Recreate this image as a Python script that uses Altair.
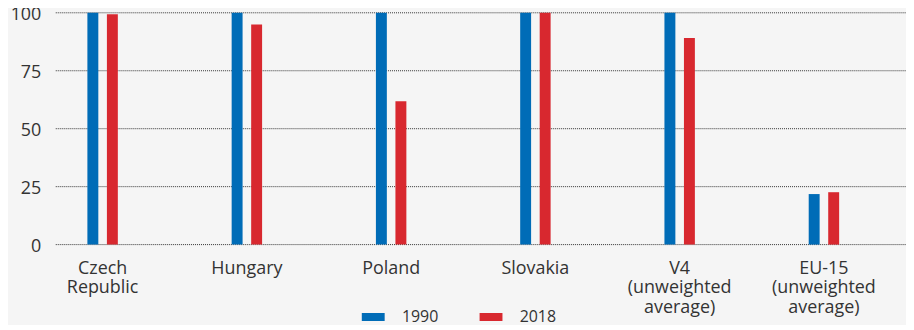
import altair as alt
import pandas as pd

categories = ["Czech|Republic", "Hungary", "Poland", "Slovakia",
              "V4|(unweighted|average)", "EU-15|(unweighted|average)"]
values_1990 = [100, 100, 100, 100, 100, 21.8]
values_2018 = [99.4, 95.0, 61.8, 100, 89.1, 22.6]
years = ["1990", "2018"]
colors = ["#006cb7", "#d8282f"]
grid_values = [0, 25, 50, 75, 100]

rows = []
for c, a, b in zip(categories, values_1990, values_2018):
    rows.append({"cat": c, "year": years[0], "value": a})
    rows.append({"cat": c, "year": years[1], "value": b})
df = pd.DataFrame(rows)
grid_df = pd.DataFrame({"g": grid_values})

FONT = "Open Sans"

grid = alt.Chart(grid_df).mark_rule(
    color="#333", strokeDash=[1, 1], strokeWidth=1, clip=False
).encode(
    y=alt.Y("g:Q", scale=alt.Scale(domain=[0, 100])),
    x=alt.value(25.4),
    x2=alt.value(883.4),
)

bars = alt.Chart(df).mark_bar().encode(
    x=alt.X("cat:N", sort=categories,
            scale=alt.Scale(paddingInner=0, paddingOuter=0),
            axis=alt.Axis(title=None, labelExpr="split(datum.label, '|')",
                          labelAngle=0, domain=False, ticks=False, tickSize=0,
                          labelPadding=15, labelFontSize=18, labelFont=FONT,
                          labelColor="#333", labelLineHeight=19.5,
                          labelBaseline="top")),
    xOffset=alt.XOffset("year:N", sort=years,
                        scale=alt.Scale(paddingInner=0.44, paddingOuter=0,
                                        range=[57.2, 87.8])),
    y=alt.Y("value:Q", scale=alt.Scale(domain=[0, 100]),
            axis=alt.Axis(title=None, values=grid_values, grid=False,
                          domain=False, ticks=False, tickSize=0,
                          offset=-15, labelPadding=4.6, labelFontSize=18,
                          labelOffset=2,
                          labelFont=FONT, labelColor="#333")),
    color=alt.Color("year:N", sort=years,
                    scale=alt.Scale(domain=years, range=colors),
                    legend=alt.Legend(title=None, orient="none", direction="horizontal",
                                      legendX=333, legendY=294, padding=0,
                                      symbolType="M-1,-0.35H1V0.35H-1Z",
                                      symbolSize=529, symbolStrokeWidth=0,
                                      labelOffset=17.3, columnPadding=41.4,
                                      labelFontSize=16, labelFont=FONT,
                                      labelColor="#333")),
)

chart = alt.layer(grid, bars).properties(
    width=870, height=233,
    autosize=alt.AutoSizeParams(type="none"),
    padding={"left": 22.6, "top": 4, "right": 10, "bottom": 80},
    background="#f5f5f5",
).configure_view(stroke=None)

chart.save("out.html", embed_options={"renderer": "svg", "actions": False})
